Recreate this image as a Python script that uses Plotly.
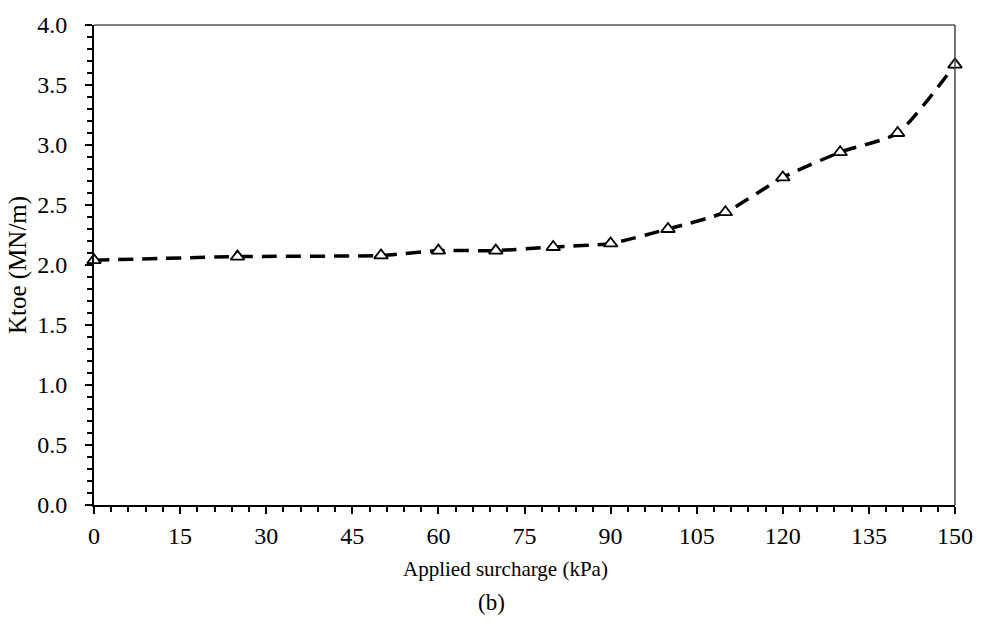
import plotly.graph_objects as go

# Applied surcharge (kPa) and toe stiffness Ktoe (MN/m)
surcharge = [0, 25, 50, 60, 70, 80, 90, 100, 110, 120, 130, 140, 150]
ktoe = [2.04, 2.07, 2.08, 2.12, 2.12, 2.15, 2.18, 2.30, 2.44, 2.73, 2.94, 3.10, 3.67]

x_ticks = list(range(0, 151, 15))
y_ticks = [0.0, 0.5, 1.0, 1.5, 2.0, 2.5, 3.0, 3.5, 4.0]

FONT = "Liberation Serif"

fig = go.Figure()
fig.add_trace(go.Scatter(
    x=surcharge, y=ktoe,
    mode="lines+markers",
    line=dict(color="black", width=3.5, dash="15px,9px", shape="spline", smoothing=0.6),
    marker=dict(symbol="triangle-up", size=12, color="white",
                line=dict(width=1.8, color="black")),
    cliponaxis=False,
    showlegend=False,
))

axis_common = dict(
    showgrid=False, zeroline=False, showline=True, linecolor="black", linewidth=2,
    ticks="outside", tickcolor="black", tickwidth=2, ticklen=7,
    tickfont=dict(family=FONT, size=24, color="black"),
)

fig.update_xaxes(
    range=[0, 150], tickvals=x_ticks, ticktext=[str(v) for v in x_ticks],
    minor=dict(dtick=3, ticks="outside", ticklen=5, tickwidth=2, tickcolor="black"),
    ticklabelstandoff=1,
    **axis_common,
)
fig.update_yaxes(
    range=[0, 4], tickvals=y_ticks, ticktext=[f"{v:.1f}" for v in y_ticks],
    minor=dict(dtick=0.1, ticks="outside", ticklen=5, tickwidth=2, tickcolor="black"),
    title_text="Ktoe (MN/m)", title_standoff=3, ticklabelstandoff=13,
    title_font=dict(family=FONT, size=25, color="black"),
    **axis_common,
)

# Top and right frame edges
fig.add_shape(type="line", xref="paper", yref="paper", x0=0, x1=1, y0=1, y1=1,
              line=dict(color="black", width=1.2))
fig.add_shape(type="line", xref="paper", yref="paper", x0=1, x1=1, y0=0, y1=1,
              line=dict(color="#444444", width=1.5))

# X-axis title and panel label
fig.add_annotation(text="Applied surcharge (kPa)", xref="paper", yref="paper",
                   x=0.478, y=-0.134, showarrow=False, yanchor="middle",
                   font=dict(family=FONT, size=21, color="black"))
fig.add_annotation(text="(b)", xref="paper", yref="paper", x=0.462, y=-0.203,
                   showarrow=False, yanchor="middle",
                   font=dict(family=FONT, size=23, color="black"))

fig.update_layout(
    width=985, height=624,
    margin=dict(l=94, r=23, t=22, b=119),
    paper_bgcolor="white", plot_bgcolor="white",
)

fig.write_html("out.html")
